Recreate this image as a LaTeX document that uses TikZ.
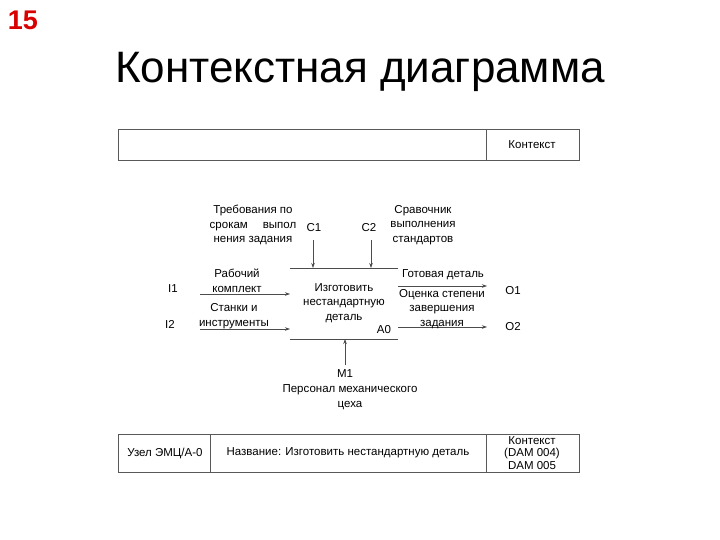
\documentclass[tikz,border=0pt]{standalone}
\usepackage{fontspec}
\setmainfont{Liberation Sans}
\usetikzlibrary{arrows.meta}
\tikzset{
  lbl/.style={inner sep=0pt, align=center, font=\fontsize{11.5}{14.5}\selectfont},
  frame/.style={draw=black!65, line width=0.9pt},
  flow/.style={draw=black!70, line width=0.6pt, -{Stealth[length=5pt,width=3.5pt]}},
  boxline/.style={draw=black!70, line width=0.6pt},
}
\begin{document}
\begin{tikzpicture}[x=1pt,y=-1pt]
\useasboundingbox (0,0) rectangle (720,540);
% page number and title
\node[inner sep=0pt, text=red!85!black, font=\fontsize{27}{27}\selectfont\bfseries] (num) at (23,20) {15};
\node[inner sep=0pt, font=\fontsize{44}{44}\selectfont] (title) at (360,72) {Контекстная диаграмма};
% header frame
\draw[frame] (118,129) rectangle (579,160);
\draw[frame] (486,129) -- (486,160);
\node[lbl] (ctx) at (532,145) {Контекст};
% footer frame
\draw[frame] (118,434) rectangle (579,472);
\draw[frame] (210,434) -- (210,472);
\draw[frame] (486,434) -- (486,472);
\node[lbl] (node) at (165,453) {Узел ЭМЦ/А-0};
\node[lbl] (name) at (348,453) {Название: Изготовить нестандартную деталь};
\node[lbl, font=\fontsize{11.5}{12.5}\selectfont] (ctx2) at (532,453) {Контекст\\(DAM 004)\\DAM 005};
% activity box (top and bottom edges)
\coordinate (btl) at (290,268);
\coordinate (btr) at (398,268);
\coordinate (bbl) at (290,339);
\coordinate (bbr) at (398,339);
\draw[boxline] (btl) -- (btr);
\draw[boxline] (bbl) -- (bbr);
\node[lbl] (act) at (344,303) {Изготовить\\нестандартную\\деталь};
\node[lbl] (a0) at (384,330) {A0};
% controls
\coordinate (c1s) at (313,240);
\coordinate (c1e) at (313,268);
\coordinate (c2s) at (371,240);
\coordinate (c2e) at (371,268);
\draw[flow] (c1s) -- (c1e);
\draw[flow] (c2s) -- (c2e);
\node[lbl] (c1) at (314,228) {C1};
\node[lbl] (c2) at (369,228) {C2};
\node[lbl] (c1t) at (253,225) {Требования по\\срокам\hspace{1.3em}выпол\\нения задания};
\node[lbl] (c2t) at (423,225) {Сравочник\\выполнения\\стандартов};
% inputs
\coordinate (i1s) at (200,294);
\coordinate (i1e) at (290,294);
\coordinate (i2s) at (200,329);
\coordinate (i2e) at (290,329);
\draw[flow] (i1s) -- (i1e);
\draw[flow] (i2s) -- (i2e);
\node[lbl] (i1) at (173,289) {I1};
\node[lbl] (i2) at (170,324) {I2};
\node[lbl] (i1t) at (237,281) {Рабочий\\комплект};
\node[lbl] (i2t) at (234,316) {Станки и\\инструменты};
% outputs
\coordinate (o1s) at (398,286);
\coordinate (o1e) at (487,286);
\coordinate (o2s) at (398,327);
\coordinate (o2e) at (487,327);
\draw[flow] (o1s) -- (o1e);
\draw[flow] (o2s) -- (o2e);
\node[lbl] (o1) at (513,291) {O1};
\node[lbl] (o2) at (513,327) {O2};
\node[lbl] (o1t) at (443,275) {Готовая деталь};
\node[lbl] (o2t) at (442,309) {Оценка степени\\завершения\\задания};
% mechanism
\coordinate (m1s) at (345,365);
\coordinate (m1e) at (345,339);
\draw[flow] (m1s) -- (m1e);
\node[lbl] (m1) at (345,374) {M1};
\node[lbl] (m1t) at (350,397) {Персонал механического\\цеха};
\end{tikzpicture}
\end{document}
